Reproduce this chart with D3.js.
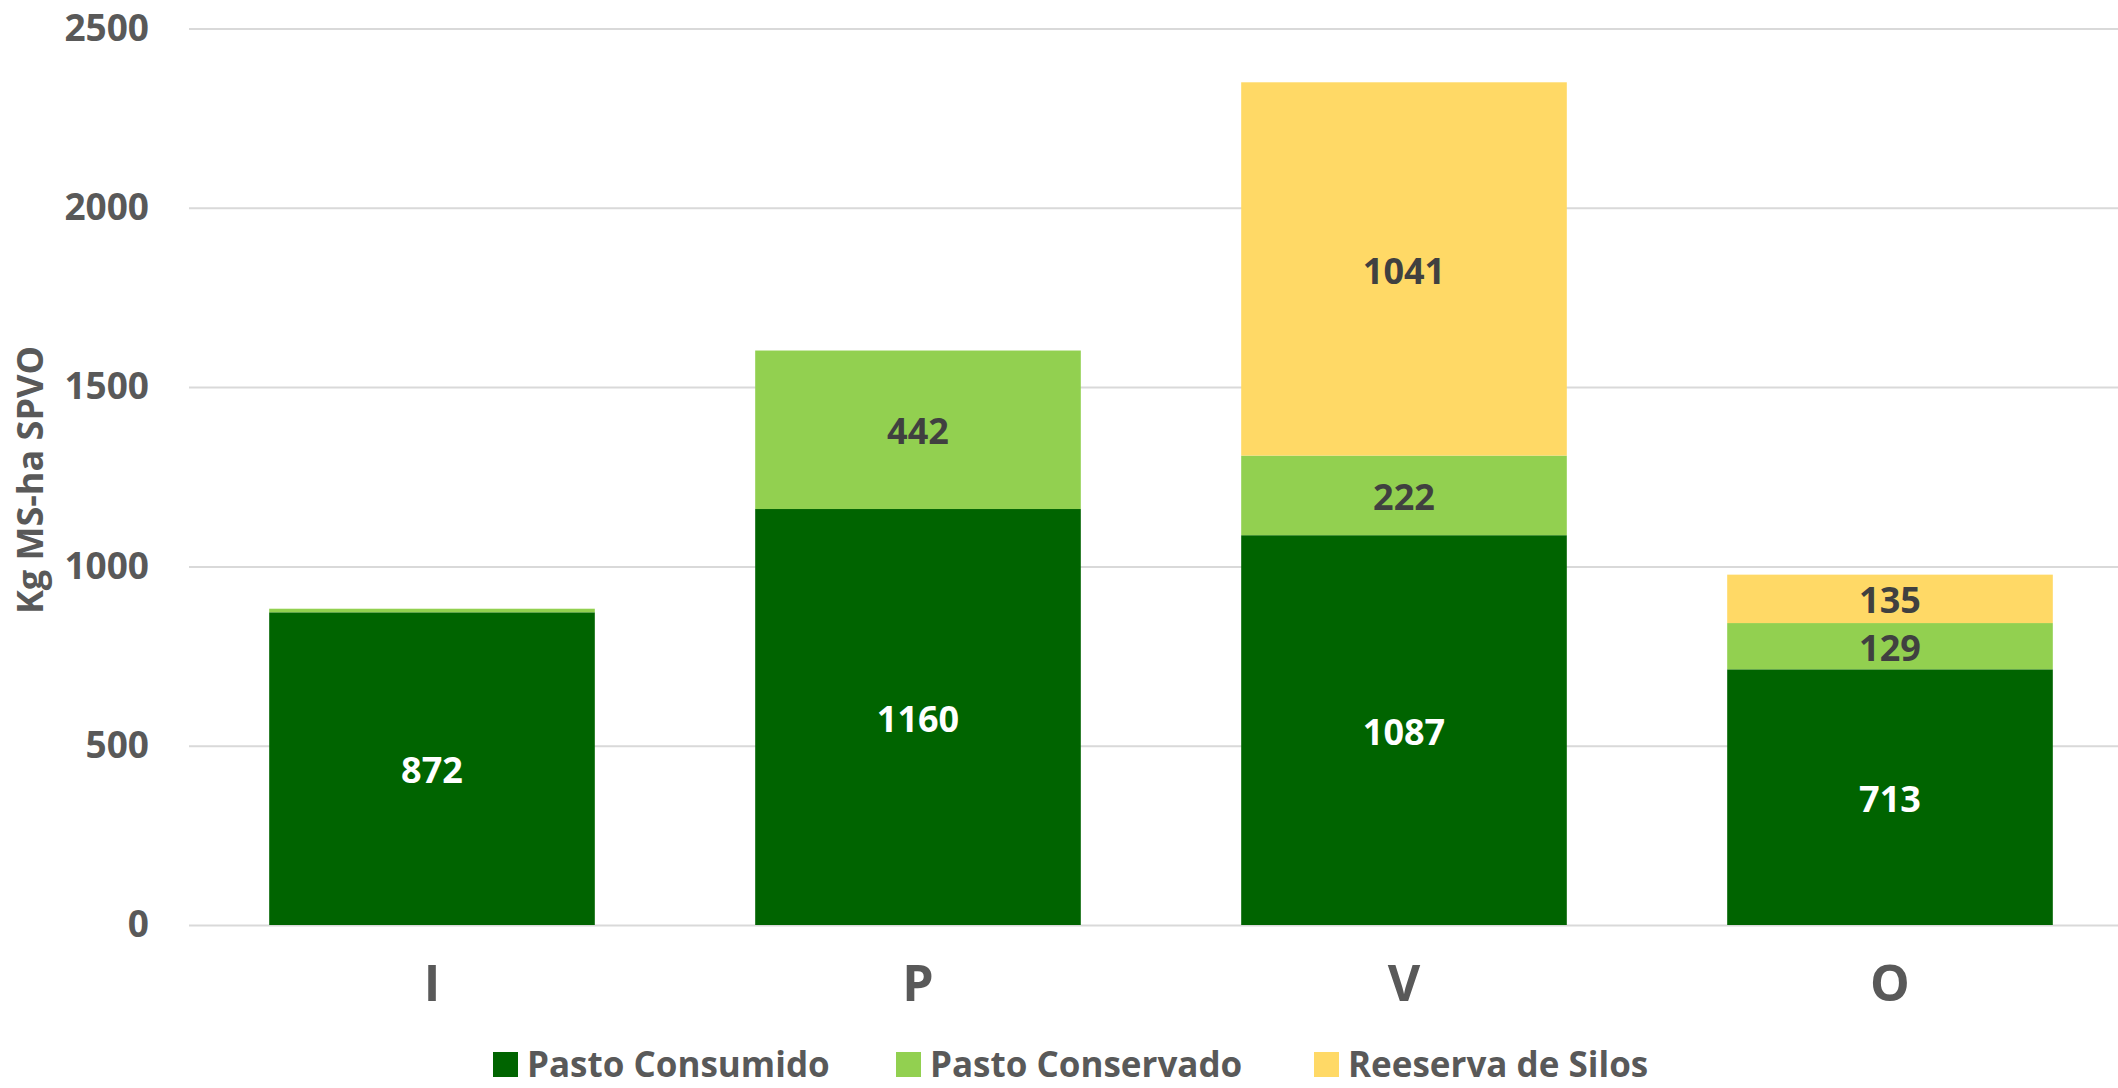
<!DOCTYPE html>
<html>
<head>
<meta charset="utf-8">
<script src="https://cdn.jsdelivr.net/npm/d3@7"></script>
<style>
  html, body { margin: 0; padding: 0; background: #fff; }
  svg { display: block; font-family: "Open Sans", sans-serif; font-weight: 700; }
</style>
</head>
<body>
<svg id="chart"></svg>
<script>
const categories = ['I', 'P', 'V', 'O'];
const seriesNames = ['Pasto Consumido', 'Pasto Conservado', 'Reeserva de Silos'];
const pastoConsumido = [872, 1160, 1087, 713];
const pastoConservado = [10, 442, 222, 129];
const reservaSilos = [0, 0, 1041, 135];
const yTicks = [0, 500, 1000, 1500, 2000, 2500];
const colors = ['#006400', '#92D050', '#FFD966'];
const labelColors = ['#ffffff', '#404040', '#404040'];

const width = 2118, height = 1088;
const svg = d3.select('#chart').attr('width', width).attr('height', height);

const rows = categories.map((c, i) => ({
    cat: c,
    'Pasto Consumido': pastoConsumido[i],
    'Pasto Conservado': pastoConservado[i],
    'Reeserva de Silos': reservaSilos[i]
}));
const stacked = d3.stack().keys(seriesNames)(rows);

const y = d3.scaleLinear().domain([0, 2500]).range([925, 28.5]);
const x = d3.scaleBand().domain(categories).range([189, 2133])
    .paddingInner(0.33).paddingOuter(0.165);

// gridlines + y labels
const yAxis = svg.append('g')
    .attr('transform', 'translate(189,0)')
    .call(d3.axisLeft(y).tickValues(yTicks).tickFormat(d3.format('d'))
        .tickSize(-(width - 189)).tickPadding(40));
yAxis.select('.domain').remove();
yAxis.selectAll('line').attr('stroke', '#D9D9D9').attr('stroke-width', 2);
yAxis.selectAll('text').attr('fill', '#595959').style('font-size', '37px')
    .style('font-family', '"Open Sans", sans-serif').style('font-weight', 700);

// bars
const layers = svg.append('g').selectAll('g').data(stacked).enter().append('g')
    .attr('fill', (d, i) => colors[i]);
layers.selectAll('rect').data(d => d).enter().append('rect')
    .attr('x', d => x(d.data.cat))
    .attr('y', d => y(d[1]))
    .attr('height', d => y(d[0]) - y(d[1]))
    .attr('width', x.bandwidth());

// value labels
stacked.forEach((layer, li) => {
    svg.append('g').selectAll('text').data(layer.filter(d => d[1] - d[0] > 50)).enter()
        .append('text')
        .attr('x', d => x(d.data.cat) + x.bandwidth() / 2)
        .attr('y', d => (y(d[0]) + y(d[1])) / 2 + 2)
        .attr('dy', '0.35em')
        .attr('text-anchor', 'middle')
        .attr('fill', labelColors[li])
        .style('font-size', '36px')
        .text(d => d[1] - d[0]);
});

// x axis labels
const xAxis = svg.append('g')
    .attr('transform', 'translate(0,925)')
    .call(d3.axisBottom(x).tickSize(0).tickPadding(40));
xAxis.select('.domain').remove();
xAxis.selectAll('text').attr('fill', '#595959').style('font-size', '50px')
    .style('font-family', '"Open Sans", sans-serif').style('font-weight', 700);

// y axis title
svg.append('text')
    .attr('transform', 'translate(30,480) rotate(-90)')
    .attr('text-anchor', 'middle')
    .attr('dy', '0.35em')
    .attr('fill', '#595959')
    .style('font-size', '36px')
    .text('Kg MS-ha SPVO');

// legend
const legendX = [493, 896, 1314];
const legend = svg.append('g').selectAll('g').data(seriesNames).enter().append('g')
    .attr('transform', (d, i) => `translate(${legendX[i]},1052)`);
legend.append('rect').attr('width', 25).attr('height', 25).attr('fill', (d, i) => colors[i]);
legend.append('text')
    .attr('x', 34).attr('y', 12.5).attr('dy', '0.35em')
    .attr('fill', '#595959')
    .style('font-size', '35px')
    .text(d => d);
</script>
</body>
</html>
